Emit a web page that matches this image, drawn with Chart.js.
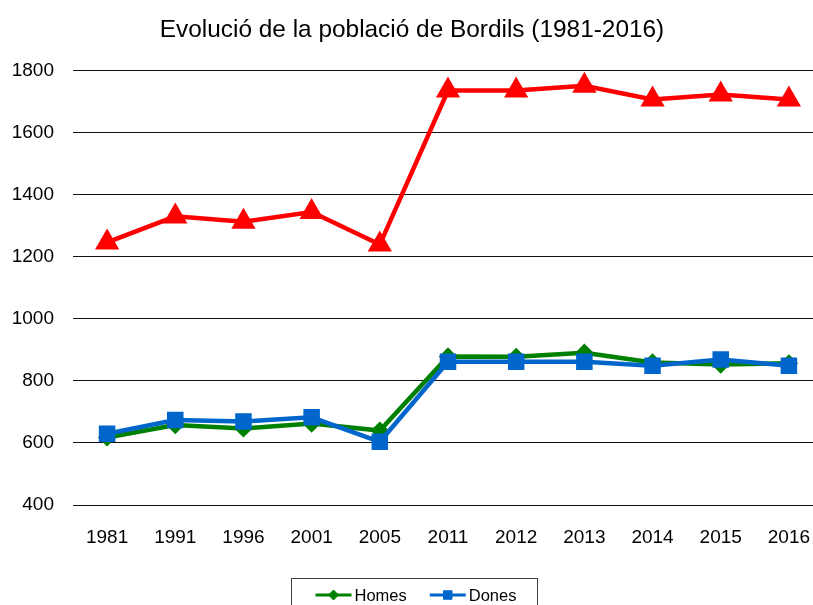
<!DOCTYPE html>
<html>
<head>
<meta charset="utf-8">
<script src="https://cdn.jsdelivr.net/npm/chart.js@4/dist/chart.umd.min.js"></script>
<style>
  html, body { margin: 0; padding: 0; background: #fff; overflow: hidden; }
  #wrap { width: 824px; height: 605px; }
</style>
</head>
<body>
<div id="wrap"><canvas id="c" width="824" height="605"></canvas></div>
<script>
const years = ['1981','1991','1996','2001','2005','2011','2012','2013','2014','2015','2016'];
const homes = [618, 658, 647, 663, 640, 879, 878, 891, 860, 853, 857];
const dones = [630, 674, 669, 683, 604, 862, 862, 862, 849, 869, 849];
const total = [1247, 1331, 1314, 1345, 1240, 1737, 1737, 1752, 1708, 1724, 1708];
const yTicks = [400, 600, 800, 1000, 1200, 1400, 1600, 1800];
const titleText = 'Evolució de la població de Bordils (1981-2016)';

const FONT = "'Liberation Sans', Arial, sans-serif";

const legendPlugin = {
  id: 'boxLegend',
  afterDraw(chart) {
    const ctx = chart.ctx;
    const cx = chart.width / 2 + 2;
    const boxW = 246, top = 578;
    const left = Math.round(cx - boxW / 2) + 0.5;
    ctx.save();
    ctx.strokeStyle = '#404040';
    ctx.lineWidth = 1;
    ctx.strokeRect(left, top + 0.5, boxW, 40);
    const items = chart.data.datasets.filter(d => d.showInLegend);
    ctx.font = '16.5px ' + FONT;
    ctx.textBaseline = 'middle';
    let x = left + 24;
    const y = top + 17;
    items.forEach(d => {
      ctx.strokeStyle = d.borderColor;
      ctx.lineWidth = 3;
      ctx.beginPath();
      ctx.moveTo(x, y);
      ctx.lineTo(x + 36, y);
      ctx.stroke();
      ctx.fillStyle = d.pointBackgroundColor;
      ctx.strokeStyle = d.pointBackgroundColor;
      ctx.lineWidth = 1;
      Chart.helpers.drawPoint(ctx, {pointStyle: d.pointStyle, rotation: 0, radius: d.legendRadius, borderWidth: 1}, x + 18, y);
      ctx.fillStyle = '#000';
      ctx.fillText(d.label, x + 39, y + 1);
      x += 39 + ctx.measureText(d.label).width + 23;
    });
    ctx.restore();
  }
};

new Chart(document.getElementById('c'), {
  type: 'line',
  data: {
    labels: years,
    datasets: [
      {
        label: 'Total', data: total, showInLegend: false, order: 2,
        borderColor: '#FF0000', backgroundColor: '#FF0000', pointBackgroundColor: '#FF0000',
        pointBorderColor: '#FF0000', borderWidth: 4.5, pointStyle: 'triangle', pointRadius: 9.5,
        tension: 0
      },
      {
        label: 'Homes', data: homes, showInLegend: true, order: 1, legendRadius: 5,
        borderColor: '#008000', backgroundColor: '#008000', pointBackgroundColor: '#008000',
        pointBorderColor: '#008000', borderWidth: 4.5, pointStyle: 'rectRot', pointRadius: 6,
        tension: 0
      },
      {
        label: 'Dones', data: dones, showInLegend: true, order: 0, legendRadius: 6,
        borderColor: '#0066CC', backgroundColor: '#0066CC', pointBackgroundColor: '#0066CC',
        pointBorderColor: '#0066CC', borderWidth: 4.5, pointStyle: 'rect', pointRadius: 8.5,
        tension: 0
      }
    ]
  },
  options: {
    responsive: false,
    animation: false,
    layout: { autoPadding: false, padding: { top: 0, right: 1, bottom: 58, left: 1 } },
    plugins: {
      title: {
        display: true, text: titleText, color: '#000',
        font: { family: FONT, size: 24.4, weight: 'normal' },
        padding: { top: 15.4, bottom: 26.3 }
      },
      legend: { display: false },
      tooltip: { enabled: false }
    },
    scales: {
      x: {
        offset: true,
        grid: { display: false, drawTicks: false },
        border: { display: false },
        ticks: { color: '#000', font: { family: FONT, size: 19 }, padding: 21, maxRotation: 0 },
        afterFit: (s) => { s.paddingLeft = 0; s.paddingRight = 0; s.height = 42; }
      },
      y: {
        min: 400, max: 1800,
        afterBuildTicks: (axis) => { axis.ticks = yTicks.map(v => ({ value: v })); },
        grid: { color: '#111', lineWidth: 1, drawTicks: false },
        border: { display: false },
        ticks: { color: '#000', font: { family: FONT, size: 19 }, padding: 19, callback: (v) => String(v) },
        afterFit: (s) => { s.paddingTop = 0; s.paddingBottom = 0; s.width = 72; }
      }
    }
  },
  plugins: [legendPlugin]
});
</script>
</body>
</html>
